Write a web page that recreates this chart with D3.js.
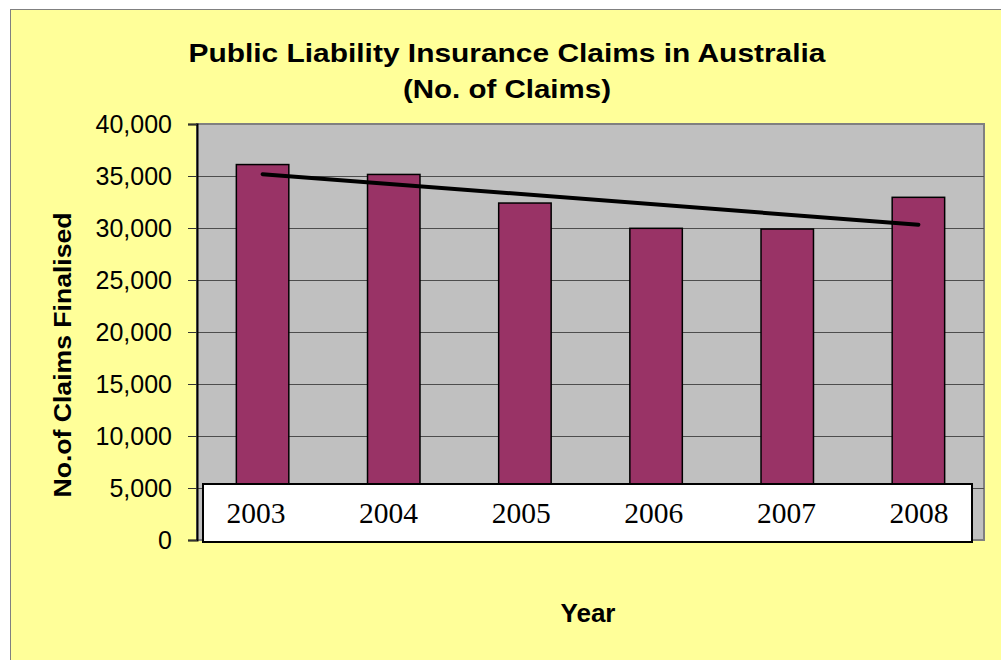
<!DOCTYPE html>
<html>
<head>
<meta charset="utf-8">
<script src="https://cdn.jsdelivr.net/npm/d3@7"></script>
<style>
  html, body { margin: 0; padding: 0; background: #ffffff; }
  svg { display: block; font-family: "Liberation Sans", Arial, sans-serif; }
</style>
</head>
<body>
<svg id="chart" width="1001" height="660"></svg>
<script>
// Data
const years = ["2003", "2004", "2005", "2006", "2007", "2008"];
const claims = [36100, 35150, 32400, 29970, 29900, 32950];
const yTicks = [0, 5000, 10000, 15000, 20000, 25000, 30000, 35000, 40000];
const titleLines = ["Public Liability Insurance Claims in Australia", "(No. of Claims)"];

// Layout
const plot = { left: 197, right: 984, top: 124, bottom: 540 };
const labelBox = { left: 203, right: 972, top: 484, bottom: 542 };
const titleWidths = [637, 208]; // Excel renders the bold title wider

const svg = d3.select("#chart");

// Chart area
svg.append("rect")
    .attr("x", 10.5).attr("y", 9.5)
    .attr("width", 1010).attr("height", 670)
    .attr("fill", "#ffff99")
    .attr("stroke", "#808080")
    .attr("stroke-width", 1);

// Scales
const x = d3.scaleBand()
    .domain(years)
    .range([plot.left, plot.right])
    .paddingInner(0.6)
    .paddingOuter(0.3);
const y = d3.scaleLinear().domain([0, 40000]).range([plot.bottom, plot.top]);

// Plot area
svg.append("rect")
    .attr("x", plot.left).attr("y", plot.top)
    .attr("width", plot.right - plot.left)
    .attr("height", plot.bottom - plot.top)
    .attr("fill", "#c0c0c0")
    .attr("stroke", "#808080")
    .attr("stroke-width", 2);

// Gridlines
svg.append("g")
    .selectAll("line")
    .data(yTicks.filter(d => d > 0 && d < 40000))
    .enter().append("line")
    .attr("x1", plot.left).attr("x2", plot.right)
    .attr("y1", d => y(d) + 0.5).attr("y2", d => y(d) + 0.5)
    .attr("stroke", "#4d4d4d")
    .attr("stroke-width", 1);

// Bars
svg.append("g")
    .selectAll("rect")
    .data(claims)
    .enter().append("rect")
    .attr("x", (d, i) => x(years[i]))
    .attr("y", d => y(d))
    .attr("width", x.bandwidth())
    .attr("height", d => y(0) - y(d))
    .attr("fill", "#993366")
    .attr("stroke", "#000000")
    .attr("stroke-width", 1.5);

// Linear trend line
const n = claims.length;
const meanX = (n - 1) / 2;
const meanY = d3.mean(claims);
const slope = d3.sum(claims, (d, i) => (i - meanX) * (d - meanY)) /
              d3.sum(claims, (d, i) => (i - meanX) * (i - meanX));
const trend = claims.map((d, i) => ({ year: years[i], value: meanY + slope * (i - meanX) }));
const trendLine = d3.line()
    .x(d => x(d.year) + x.bandwidth() / 2)
    .y(d => y(d.value));
svg.append("path")
    .datum([trend[0], trend[n - 1]])
    .attr("d", trendLine)
    .attr("fill", "none")
    .attr("stroke", "#000000")
    .attr("stroke-width", 4)
    .attr("stroke-linecap", "round");

// Y axis
const yAxis = svg.append("g")
    .attr("transform", `translate(${plot.left},0)`)
    .call(d3.axisLeft(y).tickValues(yTicks).tickSize(9).tickPadding(16).tickFormat(d3.format(",")));
yAxis.select(".domain").attr("stroke", "#000000").attr("stroke-width", 2);
yAxis.selectAll(".tick line").attr("stroke", "#333333");
yAxis.selectAll(".tick text")
    .attr("fill", "#000000")
    .style("font-size", "25px")
    .style("font-family", "'Liberation Sans', Arial, sans-serif");

// Category label box
svg.append("rect")
    .attr("x", labelBox.left).attr("y", labelBox.top)
    .attr("width", labelBox.right - labelBox.left)
    .attr("height", labelBox.bottom - labelBox.top)
    .attr("fill", "#ffffff")
    .attr("stroke", "#000000")
    .attr("stroke-width", 2);

const labelX = d3.scalePoint().domain(years).range([256, 919]);
svg.append("g")
    .selectAll("text")
    .data(years)
    .enter().append("text")
    .attr("x", d => labelX(d))
    .attr("y", 523)
    .attr("text-anchor", "middle")
    .style("font-family", "'Liberation Serif', 'Times New Roman', serif")
    .style("font-size", "29px")
    .attr("fill", "#000000")
    .attr("textLength", 59)
    .attr("lengthAdjust", "spacingAndGlyphs")
    .text(d => d);

// Title
svg.append("g")
    .selectAll("text")
    .data(titleLines)
    .enter().append("text")
    .attr("x", 507)
    .attr("y", (d, i) => 62 + i * 36)
    .attr("text-anchor", "middle")
    .attr("textLength", (d, i) => titleWidths[i])
    .attr("lengthAdjust", "spacingAndGlyphs")
    .style("font-size", "25px")
    .style("font-weight", "bold")
    .text(d => d);

// Axis titles
svg.append("text")
    .attr("transform", "translate(71,355) rotate(-90)")
    .attr("text-anchor", "middle")
    .attr("textLength", 285)
    .attr("lengthAdjust", "spacingAndGlyphs")
    .style("font-size", "24px")
    .style("font-weight", "bold")
    .text("No.of Claims Finalised");

svg.append("text")
    .attr("x", 588)
    .attr("y", 622)
    .attr("text-anchor", "middle")
    .attr("textLength", 55)
    .attr("lengthAdjust", "spacingAndGlyphs")
    .style("font-size", "25px")
    .style("font-weight", "bold")
    .text("Year");
</script>
</body>
</html>
